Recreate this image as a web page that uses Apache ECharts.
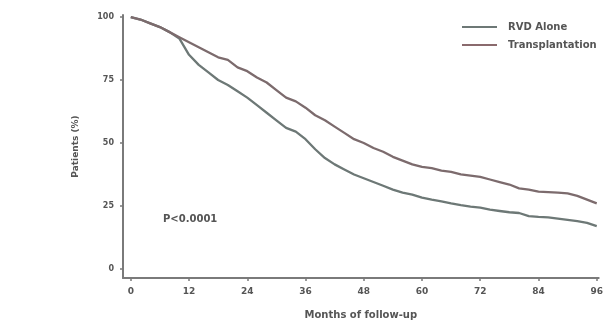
<!DOCTYPE html>
<html>
<head>
<meta charset="utf-8">
<script src="https://cdn.jsdelivr.net/npm/echarts@6/dist/echarts.min.js"></script>
<style>html,body{margin:0;padding:0;background:#fff}#c{width:606px;height:327px}</style>
</head>
<body>
<div id="c"></div>
<script>
const months = [0,2,4,6,8,10,12,14,16,18,20,22,24,26,28,30,32,34,36,38,40,42,44,46,48,50,52,54,56,58,60,62,64,66,68,70,72,74,76,78,80,82,84,86,88,90,92,94,96];
const rvdAlone = [100,99,97.5,96,94,91.5,85,81,78,75,73,70.5,68,65,62,59,56,54.5,51.5,47.5,44,41.5,39.5,37.5,36,34.5,33,31.5,30.3,29.5,28.3,27.5,26.8,26,25.3,24.7,24.3,23.5,23,22.5,22.2,21,20.7,20.5,20,19.5,19,18.3,17];
const transplantation = [100,99,97.5,96,94,92,90,88,86,84,83,80,78.5,76,74,71,68,66.5,64,61,59,56.5,54,51.5,50,48,46.5,44.5,43,41.5,40.5,40,39,38.5,37.5,37,36.5,35.5,34.5,33.5,32,31.5,30.7,30.5,30.3,30,29,27.5,26];
const xTicks = [0,12,24,36,48,60,72,84,96];
const yTicks = [0,25,50,75,100];
const seriesNames = ['RVD Alone','Transplantation'];
const pText = 'P<0.0001';

const chart = echarts.init(document.getElementById('c'), null, {renderer:'canvas'});
const txt = '#555555';
const axisCol = '#7a7a7a';
const ff = 'DejaVu Sans';
chart.setOption({
  animation:false,
  backgroundColor:'#fff',
  grid:{left:123, right:5, top:15, bottom:49, containLabel:false},
  legend:{
    orient:'vertical', left:457, top:17, itemGap:8, itemWidth:35, itemHeight:2,
    icon:'rect',
    textStyle:{fontSize:10, fontWeight:'bold', color:txt, fontFamily:ff, padding:[0,0,0,6]},
    data:seriesNames
  },
  xAxis:{
    type:'value', min:-1.6, max:96.4,
    name:'Months of follow-up', nameLocation:'middle', nameGap:32,
    nameTextStyle:{fontSize:10, fontWeight:'bold', color:txt, fontFamily:ff},
    axisLine:{show:true, onZero:false, lineStyle:{color:axisCol, width:2}},
    axisTick:{show:true, length:3, customValues:xTicks, lineStyle:{color:axisCol, width:1.5}},
    axisLabel:{customValues:xTicks, fontSize:9, fontWeight:'bold', color:txt, margin:9, fontFamily:ff},
    splitLine:{show:false}
  },
  yAxis:{
    type:'value', min:-3.6, max:100.8,
    name:'Patients (%)', nameLocation:'middle', nameGap:43, nameRotate:90,
    nameTextStyle:{fontSize:9, fontWeight:'bold', color:txt, fontFamily:ff},
    axisLine:{show:true, onZero:false, lineStyle:{color:axisCol, width:2}},
    axisTick:{show:true, length:3, customValues:yTicks, lineStyle:{color:axisCol, width:1.5}},
    axisLabel:{customValues:yTicks, fontSize:8, fontWeight:'bold', color:txt, margin:9, fontFamily:ff},
    splitLine:{show:false}
  },
  series:[
    {name:seriesNames[0], type:'line', showSymbol:false, symbol:'none',
     data:months.map((m,i)=>[m, rvdAlone[i]]),
     lineStyle:{color:'#6d7876', width:2.3}, itemStyle:{color:'#6d7876'}},
    {name:seriesNames[1], type:'line', showSymbol:false, symbol:'none',
     data:months.map((m,i)=>[m, transplantation[i]]),
     lineStyle:{color:'#7c6b6d', width:2.3}, itemStyle:{color:'#8a6a6d'}}
  ],
  graphic:[
    {type:'text', left:163, top:214, style:{text:pText, fontSize:10, fontWeight:'bold', fill:txt, fontFamily:ff}}
  ]
});
</script>
</body>
</html>
